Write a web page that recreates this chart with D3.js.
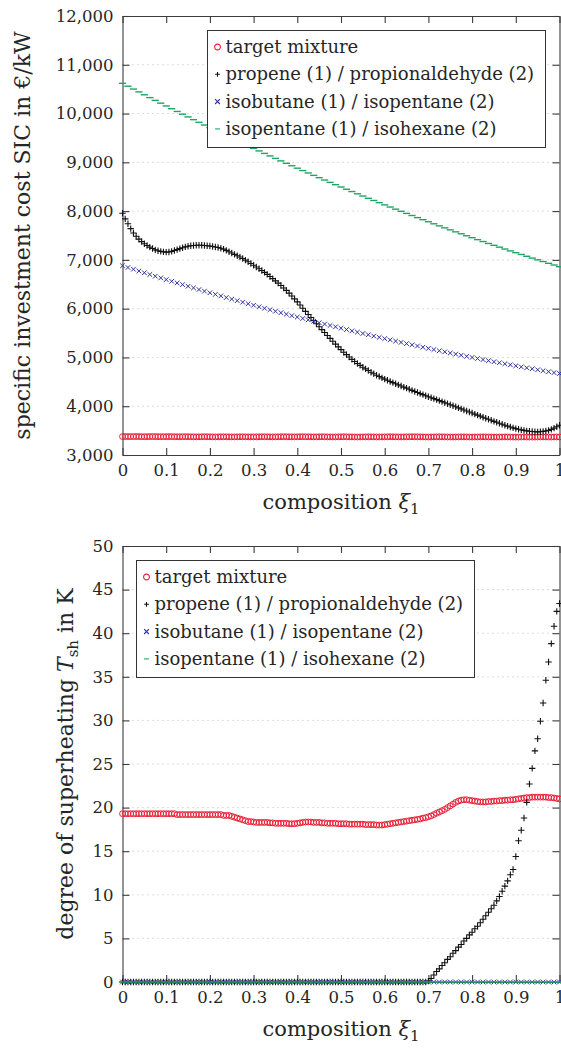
<!DOCTYPE html>
<html><head><meta charset="UTF-8">
<script src="https://cdn.jsdelivr.net/npm/d3@7"></script>
<style>
body{margin:0;background:#fff}
text{font-family:"DejaVu Serif","Liberation Serif",serif;fill:#262626}
</style></head><body><svg id="fig" width="561" height="1049"></svg>
<script>
// composition grid (fine series sampled every 1/160, coarse every 1/80)
const xiFine = d3.range(161).map(i => i / 160);
const xiCoarse = d3.range(81).map(i => i / 80);

const xTicks = [0, 0.1, 0.2, 0.3, 0.4, 0.5, 0.6, 0.7, 0.8, 0.9, 1];
const xTickLabels = ['0', '0.1', '0.2', '0.3', '0.4', '0.5', '0.6', '0.7', '0.8', '0.9', '1'];
const sicTicks = [3000, 4000, 5000, 6000, 7000, 8000, 9000, 10000, 11000, 12000];
const shTicks = [0, 5, 10, 15, 20, 25, 30, 35, 40, 45, 50];
const seriesNames = ['target mixture', 'propene (1) / propionaldehyde (2)', 'isobutane (1) / isopentane (2)', 'isopentane (1) / isohexane (2)'];

// specific investment cost SIC in EUR/kW
const sicTarget = [
  3378,3379,3378,3377,3378,3379,3378,3376,3375,3376,3377,3378,3377,3376,3375,3375,
  3376,3377,3376,3375,3374,3374,3375,3376,3375,3374,3373,3372,3373,3374,3375,3374,
  3373,3372,3371,3372,3373,3374,3373,3372,3371,3371,3372,3373,3374,3373,3372,3371,
  3371,3372,3373,3374,3374,3373,3372,3371,3372,3373,3374,3375,3374,3373,3372,3372,
  3373,3374,3375,3374,3373,3372,3371,3372,3373,3374,3373,3372,3371,3370,3371,3372,
  3373,3374,3373,3372,3371,3370,3369,3370,3371,3372,3373,3372,3371,3370,3370,3371,
  3372,3373,3374,3373,3372,3371,3370,3371,3372,3373,3374,3374,3373,3372,3371,3370,
  3369,3370,3371,3372,3373,3372,3371,3370,3369,3369,3370,3371,3372,3371,3370,3369,
  3368,3369,3370,3371,3372,3371,3370,3369,3368,3368,3369,3370,3371,3370,3369,3368,
  3367,3368,3369,3370,3369,3368,3367,3368,3369,3370,3371,3370,3369,3368,3369,3370,
  3370
];
const sicPropene = [
  7955,7840,7740,7640,7550,7485,7425,7375,7330,7295,7262,7232,7205,7188,7174,7165,
  7160,7163,7175,7192,7210,7230,7250,7267,7280,7289,7296,7300,7300,7299,7296,7291,
  7285,7276,7265,7253,7240,7220,7195,7168,7140,7113,7086,7058,7030,6996,6962,6926,
  6890,6855,6819,6782,6745,6703,6660,6615,6570,6523,6475,6425,6375,6318,6260,6200,
  6140,6075,6010,5945,5880,5818,5755,5692,5630,5570,5510,5450,5390,5332,5274,5217,
  5160,5108,5057,5008,4960,4918,4877,4838,4800,4765,4731,4698,4665,4636,4608,4581,
  4555,4531,4507,4484,4460,4437,4415,4392,4370,4348,4325,4302,4280,4259,4238,4216,
  4195,4175,4155,4135,4115,4094,4072,4051,4030,4009,3988,3966,3945,3924,3902,3881,
  3860,3839,3818,3796,3775,3754,3732,3711,3690,3670,3650,3630,3610,3592,3574,3557,
  3540,3527,3515,3504,3495,3488,3482,3478,3475,3477,3484,3493,3505,3525,3550,3578,
  3610
];
const sicIsobutane = [
  6880,6844,6808,6772,6736,6701,6666,6631,6596,6561,6527,6493,6459,6426,6392,6359,
  6326,6293,6261,6228,6196,6164,6133,6101,6070,6039,6008,5978,5947,5917,5887,5857,
  5828,5799,5770,5741,5712,5684,5656,5628,5600,5572,5545,5518,5491,5465,5438,5412,
  5386,5360,5335,5309,5284,5259,5235,5210,5186,5162,5138,5115,5091,5068,5045,5023,
  5000,4978,4956,4934,4912,4891,4870,4849,4828,4807,4787,4767,4747,4728,4708,4689,
  4670
];
const sicIsopentane = [
  10620,10561,10502,10444,10385,10327,10270,10213,10156,10099,10043,9987,9931,9875,9820,9765,
  9711,9657,9603,9549,9496,9443,9390,9338,9286,9234,9183,9132,9081,9030,8980,8930,
  8880,8831,8782,8733,8685,8637,8589,8542,8495,8448,8401,8355,8309,8263,8218,8173,
  8128,8084,8040,7996,7953,7910,7867,7824,7782,7740,7698,7657,7616,7575,7535,7495,
  7455,7415,7376,7337,7299,7261,7223,7185,7148,7111,7074,7037,7001,6966,6930,6895,
  6860
];

// degree of superheating T_sh in K
const shTarget = [
  19.3,19.3,19.3,19.3,19.3,19.3,19.3,19.3,19.3,19.3,19.3,19.3,19.3,19.3,19.3,19.3,
  19.3,19.3,19.3,19.3,19.2,19.2,19.2,19.2,19.2,19.2,19.2,19.2,19.2,19.2,19.2,19.2,
  19.2,19.2,19.2,19.2,19.2,19.1,19.1,19.1,19.0,18.9,18.8,18.7,18.6,18.5,18.4,18.4,
  18.35,18.3,18.3,18.3,18.3,18.3,18.25,18.25,18.2,18.2,18.2,18.2,18.2,18.15,18.15,18.15,
  18.2,18.25,18.3,18.35,18.35,18.35,18.3,18.3,18.3,18.25,18.25,18.2,18.2,18.2,18.2,18.15,
  18.15,18.15,18.15,18.1,18.1,18.1,18.1,18.1,18.1,18.05,18.05,18.05,18.05,18.0,18.0,18.0,
  18.05,18.1,18.15,18.2,18.25,18.3,18.35,18.4,18.45,18.5,18.55,18.6,18.65,18.7,18.8,18.85,
  18.95,19.05,19.2,19.35,19.5,19.65,19.8,20.0,20.2,20.4,20.6,20.75,20.85,20.9,20.9,20.85,
  20.8,20.75,20.7,20.65,20.65,20.65,20.7,20.7,20.75,20.75,20.8,20.8,20.85,20.85,20.9,20.9,
  20.95,21.0,21.05,21.1,21.15,21.15,21.2,21.2,21.2,21.2,21.2,21.2,21.15,21.15,21.1,21.05,
  21.0
];
const shPropene = [
  0,0,0,0,0,0,0,0,0,0,0,0,0,0,0,0,
  0,0,0,0,0,0,0,0,0,0,0,0,0,0,0,0,
  0,0,0,0,0,0,0,0,0,0,0,0,0,0,0,0,
  0,0,0,0,0,0,0,0,0,0,0,0,0,0,0,0,
  0,0,0,0,0,0,0,0,0,0,0,0,0,0,0,0,
  0,0,0,0,0,0,0,0,0,0,0,0,0,0,0,0,
  0,0,0,0,0,0,0,0,0,0,0,0,0,0,0,0,
  0.1,0.4,0.8,1.2,1.5,1.9,2.2,2.6,2.9,3.3,3.6,4.0,4.3,4.7,5.0,5.4,
  5.7,6.1,6.4,6.8,7.2,7.6,8.0,8.4,8.8,9.3,9.8,10.4,11.0,11.6,12.3,12.9,
  14.4,16.2,17.4,18.8,20.6,22.7,24.5,26.5,27.9,29.9,32.0,34.6,36.7,38.8,40.8,42.5,
  43.4
];
const shIsobutane = [
  0,0,0,0,0,0,0,0,0,0,0,0,0,0,0,0,0,0,0,0,
  0,0,0,0,0,0,0,0,0,0,0,0,0,0,0,0,0,0,0,0,
  0,0,0,0,0,0,0,0,0,0,0,0,0,0,0,0,0,0,0,0,
  0,0,0,0,0,0,0,0,0,0,0,0,0,0,0,0,0,0,0,0,
  0
];
const shIsopentane = [
  0,0,0,0,0,0,0,0,0,0,0,0,0,0,0,0,0,0,0,0,
  0,0,0,0,0,0,0,0,0,0,0,0,0,0,0,0,0,0,0,0,
  0,0,0,0,0,0,0,0,0,0,0,0,0,0,0,0,0,0,0,0,
  0,0,0,0,0,0,0,0,0,0,0,0,0,0,0,0,0,0,0,0,
  0
];

const styles = [
  { kind: 'circle', color: '#ea1c34' },
  { kind: 'plus', color: '#111111' },
  { kind: 'cross', color: '#2e2e9c' },
  { kind: 'dash', color: '#1fa463' }
];

const FONT = '"DejaVu Serif", "Liberation Serif", serif';
const svg = d3.select('#fig');
const left = 122.5, right = 559.5;

function markerPath(kind, s) {
  if (kind === 'plus') return `M${-s},0H${s}M0,${-s}V${s}`;
  if (kind === 'cross') return `M${-s},${-s}L${s},${s}M${-s},${s}L${s},${-s}`;
  if (kind === 'dash') return `M${-s},0H${s}`;
  return d3.arc()({ innerRadius: 0, outerRadius: s, startAngle: 0, endAngle: 2 * Math.PI });
}
const markerSize = { circle: 2.9, plus: 3.2, cross: 2.3, dash: 3.6 };
const markerWidth = { circle: 1, plus: 1.1, cross: 1, dash: 1.4 };

function drawMarks(g, xs, ys, st, x, y) {
  const d = markerPath(st.kind, markerSize[st.kind]);
  g.append('g').selectAll('path').data(xs.map((v, i) => [v, ys[i]])).join('path')
    .attr('d', d)
    .attr('transform', p => `translate(${x(p[0])},${y(p[1])})`)
    .attr('fill', 'none')
    .attr('stroke', st.color)
    .attr('stroke-width', markerWidth[st.kind]);
}

function panel(opt) {
  const x = d3.scaleLinear().domain([0, 1]).range([left, right]);
  const y = d3.scaleLinear().domain(opt.domain).range([opt.bottom, opt.top]);
  const g = svg.append('g');

  // dotted horizontal grid
  g.append('g').selectAll('line').data(opt.ticks.slice(1, -1)).join('line')
    .attr('x1', left).attr('x2', right)
    .attr('y1', d => y(d)).attr('y2', d => y(d))
    .attr('stroke', '#b9b9b9').attr('stroke-width', 1).attr('stroke-dasharray', '1,4');

  const axStyle = a => {
    a.selectAll('path,line').attr('stroke', '#3c3c3c').attr('stroke-width', 1.1);
    a.attr('font-family', FONT).attr('font-size', 16.5);
    a.selectAll('text').attr('fill', '#262626');
  };
  g.append('g').attr('transform', `translate(${left},0)`)
    .call(d3.axisLeft(y).tickValues(opt.ticks).tickSize(-7).tickSizeOuter(0).tickPadding(9).tickFormat(opt.fmt))
    .call(axStyle);
  g.append('g').attr('transform', `translate(${right},0)`)
    .call(d3.axisRight(y).tickValues(opt.ticks).tickSize(-7).tickSizeOuter(0).tickFormat(''))
    .call(axStyle);
  g.append('g').attr('transform', `translate(0,${opt.top})`)
    .call(d3.axisTop(x).tickValues(xTicks).tickSize(-7).tickSizeOuter(0).tickFormat(''))
    .call(axStyle);
  g.append('g').attr('transform', `translate(0,${opt.bottom})`)
    .call(d3.axisBottom(x).tickValues(xTicks).tickSize(-7).tickSizeOuter(0).tickPadding(9).tickFormat((d, i) => xTickLabels[i]))
    .call(axStyle);

  opt.series.forEach((s, k) => drawMarks(g, s[0], s[1], styles[k], x, y));

  // x label
  const xl = g.append('text').attr('x', (left + right) / 2).attr('y', opt.bottom + 54)
    .attr('text-anchor', 'middle').attr('font-size', 21);
  xl.append('tspan').text('composition ');
  xl.append('tspan').attr('font-style', 'italic').text('ξ');
  xl.append('tspan').attr('font-size', 15).attr('dy', 5).text('1');

  // y label
  const yl = g.append('text')
    .attr('transform', `translate(${opt.ylabelX},${(opt.top + opt.bottom) / 2}) rotate(-90)`)
    .attr('text-anchor', 'middle').attr('font-size', 22);
  opt.ylabel(yl);

  // legend
  const lg = g.append('g').attr('transform', `translate(${opt.legend[0]},${opt.legend[1]})`);
  lg.append('rect').attr('width', 338).attr('height', 117)
    .attr('fill', '#fff').attr('stroke', '#333').attr('stroke-width', 1);
  seriesNames.forEach((name, k) => {
    const cy = 16.5 + k * 27.3;
    const st = styles[k];
    lg.append('path').attr('d', markerPath(st.kind, st.kind === 'circle' ? 2.9 : 2.4))
      .attr('transform', `translate(10,${cy})`)
      .attr('fill', 'none').attr('stroke', st.color).attr('stroke-width', 1.1);
    lg.append('text').attr('x', 18).attr('y', cy + 6)
      .attr('font-size', 18).text(name);
  });
}

panel({
  top: 16, bottom: 455, domain: [3000, 12000], ticks: sicTicks, fmt: d3.format(','),
  series: [[xiFine, sicTarget], [xiFine, sicPropene], [xiCoarse, sicIsobutane], [xiCoarse, sicIsopentane]],
  ylabelX: 30,
  ylabel: t => t.text('specific investment cost SIC in €/kW'),
  legend: [207.5, 30.5]
});

panel({
  top: 546, bottom: 982, domain: [0, 50], ticks: shTicks, fmt: d3.format('d'),
  series: [[xiFine, shTarget], [xiFine, shPropene], [xiCoarse, shIsobutane], [xiCoarse, shIsopentane]],
  ylabelX: 73,
  ylabel: t => {
    t.append('tspan').text('degree of superheating ');
    t.append('tspan').attr('font-style', 'italic').text('T');
    t.append('tspan').attr('font-size', 15).attr('dy', 5).text('sh');
    t.append('tspan').attr('dy', -5).text(' in K');
  },
  legend: [136.5, 560.5]
});
</script></body></html>
